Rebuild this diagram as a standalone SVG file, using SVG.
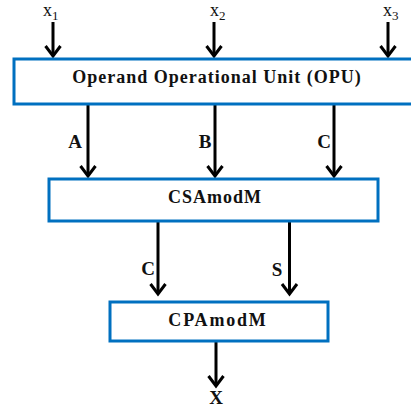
<svg xmlns="http://www.w3.org/2000/svg" width="411" height="407" viewBox="0 0 411 407">
<style>
.box{fill:#fff;stroke:#0070C0;stroke-width:3}
.t{font-family:"Liberation Serif","Times New Roman",serif;font-weight:bold;font-size:18px;letter-spacing:1px;text-anchor:middle;fill:#111}
.lbl{font-family:"Liberation Serif","Times New Roman",serif;font-weight:bold;font-size:19px;text-anchor:middle;fill:#111}
.in{font-family:"Liberation Serif","Times New Roman",serif;font-size:18px;fill:#111}
.sub{font-size:13px}
.w{stroke:#000;stroke-width:3;fill:none;marker-end:url(#ah)}
</style>
<defs>
<marker id="ah" markerUnits="userSpaceOnUse" markerWidth="24" markerHeight="24" viewBox="-14 -12 16 24" refX="0" refY="0" orient="auto">
<path d="M-10,-7.5 L0,0 L-10,7.5" fill="none" stroke="#000" stroke-width="3"/>
</marker>
</defs>
<rect width="411" height="407" fill="#fff"/>
<g id="connectors">
<line class="w" x1="53" y1="22" x2="53" y2="56"/>
<line class="w" x1="214" y1="22" x2="214" y2="56"/>
<line class="w" x1="388" y1="22" x2="388" y2="56"/>
<line class="w" x1="88" y1="104" x2="88" y2="176"/>
<line class="w" x1="215" y1="104" x2="215" y2="176"/>
<line class="w" x1="334" y1="104" x2="334" y2="176"/>
<line class="w" x1="158" y1="221" x2="158" y2="294"/>
<line class="w" x1="289.5" y1="221" x2="289.5" y2="294"/>
<line class="w" x1="216" y1="341" x2="216" y2="386"/>
</g>
<g id="labels">
<text class="in" x="43" y="16">x<tspan class="sub" dy="4">1</tspan></text>
<text class="in" x="210" y="16">x<tspan class="sub" dy="4">2</tspan></text>
<text class="in" x="383" y="16">x<tspan class="sub" dy="4">3</tspan></text>
<text class="lbl" x="75" y="148">A</text>
<text class="lbl" x="205" y="148">B</text>
<text class="lbl" x="324" y="148">C</text>
<text class="lbl" x="148" y="275">C</text>
<text class="lbl" x="277" y="276">S</text>
<text class="lbl" x="216" y="404">X</text>
</g>
<g id="opu">
<rect class="box" x="14" y="59" width="402" height="45"/>
<text class="t" x="217" y="83">Operand Operational Unit (OPU)</text>
</g>
<g id="csamodm">
<rect class="box" x="49" y="179" width="329" height="42"/>
<text class="t" x="215" y="203">CSAmodM</text>
</g>
<g id="cpamodm">
<rect class="box" x="110" y="302" width="218" height="39"/>
<text class="t" x="218" y="326" style="letter-spacing:1.8px">CPAmodM</text>
</g>
</svg>
